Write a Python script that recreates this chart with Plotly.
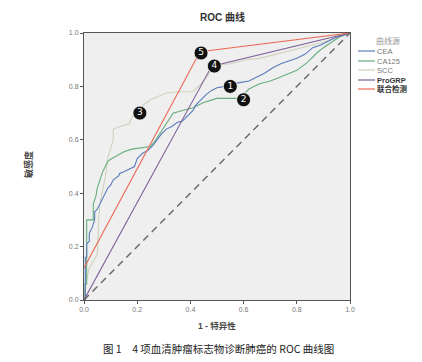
import plotly.graph_objects as go

# ---------------- data ----------------
series_names = ["CEA", "CA125", "SCC", "ProGRP", "联合检测"]
series_ids = ["1", "2", "3", "4", "5"]
series_colors = ["#5b7bbd", "#66ad7c", "#cfd2bd", "#7d5f98", "#ec6a55"]

cea_fpr = [0.0, 0.005, 0.005, 0.01, 0.01, 0.02, 0.02, 0.03, 0.04, 0.04, 0.05, 0.06, 0.07, 0.08, 0.09, 0.10, 0.11, 0.13, 0.135, 0.15,
           0.17, 0.19, 0.20, 0.22, 0.24, 0.26, 0.29, 0.31, 0.33, 0.35, 0.37, 0.39, 0.41, 0.42, 0.44, 0.46, 0.48, 0.50,
           0.53, 0.56, 0.59, 0.62, 0.65, 0.68, 0.71, 0.74, 0.77, 0.80, 0.83, 0.86, 0.89, 0.92, 0.95, 0.97, 1.0]
cea_tpr = [0.0, 0.0, 0.16, 0.16, 0.21, 0.22, 0.25, 0.27, 0.30, 0.33, 0.34, 0.36, 0.385, 0.40, 0.42, 0.43, 0.45, 0.465, 0.475, 0.48,
           0.49, 0.50, 0.53, 0.55, 0.56, 0.58, 0.62, 0.64, 0.65, 0.665, 0.67, 0.69, 0.71, 0.73, 0.75, 0.77, 0.785, 0.795,
           0.80, 0.81, 0.815, 0.82, 0.835, 0.85, 0.87, 0.885, 0.895, 0.905, 0.92, 0.945, 0.955, 0.97, 0.985, 0.99, 1.0]

ca125_fpr = [0.0, 0.0, 0.01, 0.01, 0.035, 0.035, 0.045, 0.05, 0.06, 0.07, 0.08, 0.09, 0.105, 0.13, 0.15, 0.18, 0.22, 0.25,
             0.27, 0.29, 0.31, 0.335, 0.37, 0.41, 0.45, 0.50, 0.55, 0.575, 0.60, 0.62, 0.66, 0.70, 0.725, 0.76, 0.80,
             0.84, 0.875, 0.90, 0.935, 0.96, 1.0]
ca125_tpr = [0.0, 0.06, 0.06, 0.30, 0.30, 0.36, 0.39, 0.42, 0.45, 0.48, 0.50, 0.52, 0.53, 0.545, 0.555, 0.565, 0.57, 0.575,
             0.60, 0.63, 0.66, 0.70, 0.71, 0.72, 0.74, 0.755, 0.755, 0.755, 0.77, 0.79, 0.81, 0.82, 0.83, 0.845, 0.86,
             0.89, 0.925, 0.945, 0.97, 0.985, 1.0]

scc_fpr = [0.0, 0.01, 0.02, 0.04, 0.05, 0.055, 0.06, 0.07, 0.08, 0.09, 0.11, 0.11, 0.135, 0.17, 0.18, 0.21, 0.25, 0.31,
           0.36, 0.41, 0.45, 0.48, 0.50, 0.55, 0.61, 0.66, 0.72, 0.78, 0.84, 0.90, 0.95, 1.0]
scc_tpr = [0.0, 0.08, 0.12, 0.15, 0.17, 0.30, 0.36, 0.41, 0.46, 0.535, 0.60, 0.64, 0.65, 0.66, 0.685, 0.72, 0.75, 0.775,
           0.78, 0.78, 0.82, 0.86, 0.88, 0.885, 0.90, 0.905, 0.92, 0.935, 0.95, 0.965, 0.985, 1.0]

progrp_fpr = [0.0, 0.48, 1.0]
progrp_tpr = [0.0, 0.876, 1.0]

combo_fpr = [0.0, 0.436, 1.0]
combo_tpr = [0.12, 0.93, 1.0]

ref_fpr = [0.0, 1.0]
ref_tpr = [0.0, 1.0]

# curve label badges (data coordinates)
badge_x = [0.55, 0.60, 0.21, 0.49, 0.44]
badge_y = [0.80, 0.75, 0.70, 0.876, 0.925]

x_ticks = [0.0, 0.2, 0.4, 0.6, 0.8, 1.0]
y_ticks = [0.0, 0.2, 0.4, 0.6, 0.8, 1.0]
tick_text = ["0.0", "0.2", "0.4", "0.6", "0.8", "1.0"]

title_text = "ROC 曲线"
x_title = "1 - 特异性"
y_title = "敏感度"
legend_title = "曲线源"
caption = "图 1　4 项血清肿瘤标志物诊断肺癌的 ROC 曲线图"

# ---------------- figure ----------------
fig = go.Figure()

curves = [(cea_fpr, cea_tpr), (ca125_fpr, ca125_tpr), (scc_fpr, scc_tpr),
          (progrp_fpr, progrp_tpr), (combo_fpr, combo_tpr)]
order = [2, 1, 0, 3, 4]
for i in order:
    fx, ty = curves[i]
    fig.add_trace(go.Scatter(x=fx, y=ty, mode="lines",
                             line=dict(color=series_colors[i], width=1.1),
                             showlegend=False, hoverinfo="skip"))

fig.add_trace(go.Scatter(x=ref_fpr, y=ref_tpr, mode="lines",
                         line=dict(color="#6a6a6a", width=1.5, dash="7px,5px"),
                         showlegend=False, hoverinfo="skip"))

fig.add_trace(go.Scatter(x=badge_x, y=badge_y, mode="markers+text",
                         marker=dict(size=14, color="#111111", line=dict(color="#ffffff", width=0.8)),
                         text=series_ids, textposition="middle center",
                         textfont=dict(color="white", size=9, family="Arial Black, DejaVu Sans"),
                         cliponaxis=False, showlegend=False, hoverinfo="skip"))

# window pixel geometry of the plot area (page body has an 8px margin)
px0, px1 = 84, 350
py0, py1 = 300, 33
def xp(px):
    return (px - px0) / (px1 - px0)
def yp(py):
    return (py0 - py) / (py0 - py1)

leg_py = [51, 61, 70, 80, 89]
leg_x = [xp(355)] * 5
leg_y = [yp(p) for p in leg_py]
for i in range(5):
    fig.add_shape(type="line", xref="paper", yref="paper",
                  x0=xp(358), x1=xp(375), y0=leg_y[i], y1=leg_y[i],
                  line=dict(color=series_colors[i], width=1.2))
    bold = i >= 3
    fig.add_annotation(x=xp(375), y=leg_y[i], xref="paper", yref="paper",
                       text=("<b>%s</b>" % series_names[i]) if bold else series_names[i],
                       showarrow=False, xanchor="left", yanchor="middle",
                       font=dict(size=7.5, color="#333333" if bold else "#777777",
                                 family="Liberation Sans, Noto Sans CJK SC"))
fig.add_trace(go.Scatter(x=leg_x, y=leg_y, mode="markers+text",
                         marker=dict(size=13, color="#111111"),
                         text=series_ids, textposition="middle center",
                         textfont=dict(color="white", size=8, family="Arial Black, DejaVu Sans"),
                         cliponaxis=False, showlegend=False, hoverinfo="skip"))
fig.add_annotation(x=xp(388), y=yp(41), xref="paper", yref="paper", text=legend_title,
                   showarrow=False, xanchor="center", yanchor="middle",
                   font=dict(size=8, color="#999999", family="Noto Sans CJK SC"))

fig.add_annotation(x=xp(222), y=yp(17), xref="paper", yref="paper", text="<b>%s</b>" % title_text,
                   showarrow=False, xanchor="center", yanchor="middle",
                   font=dict(size=10, color="#333333", family="Liberation Sans, Noto Sans CJK SC"))
fig.add_annotation(x=xp(217), y=yp(326), xref="paper", yref="paper", text="<b>%s</b>" % x_title,
                   showarrow=False, xanchor="center", yanchor="middle",
                   font=dict(size=8.5, color="#444444", family="Liberation Sans, Noto Sans CJK SC"))
fig.add_annotation(x=xp(28), y=yp(165), xref="paper", yref="paper", text="<b>%s</b>" % y_title,
                   showarrow=False, xanchor="center", yanchor="middle", textangle=-90,
                   font=dict(size=9, color="#444444", family="Noto Sans CJK SC"))
fig.add_annotation(x=xp(218), y=yp(348), xref="paper", yref="paper", text=caption,
                   showarrow=False, xanchor="center", yanchor="middle",
                   font=dict(size=10.5, color="#222222", family="Noto Sans CJK SC"))

axis_common = dict(range=[0, 1], showgrid=False, zeroline=False, showline=True,
                   linecolor="#555555", linewidth=1, mirror=True, ticks="outside",
                   ticklen=3, tickcolor="#555555", tickfont=dict(size=7, color="#777777", family="Liberation Sans"),
                   fixedrange=True)
fig.update_xaxes(**axis_common, tickvals=x_ticks, ticktext=tick_text)
fig.update_yaxes(**axis_common, tickvals=y_ticks, ticktext=tick_text)

# figure is offset by the 8px body margin: shrink and shift to keep window positions
fig.update_layout(width=414, height=354,
                  margin=dict(l=76, r=72, t=25, b=62),
                  paper_bgcolor="white", plot_bgcolor="#efefef",
                  showlegend=False)

fig.write_html("out.html")
